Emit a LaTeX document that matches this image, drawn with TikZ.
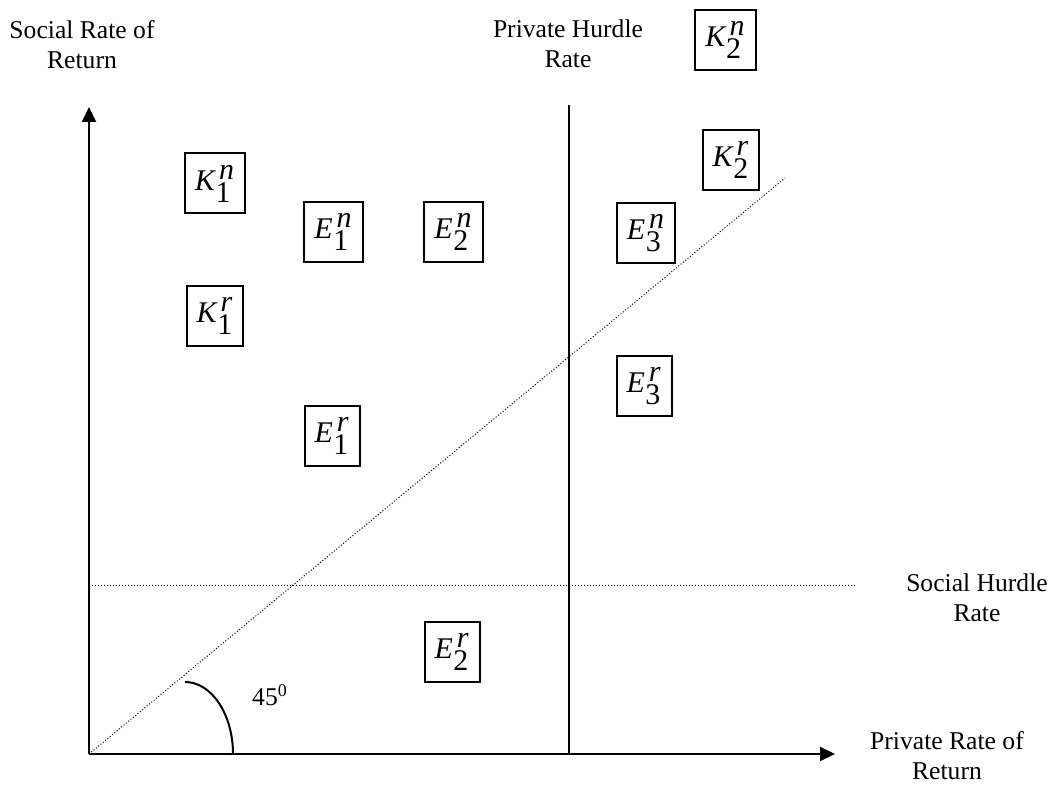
\documentclass[tikz,border=0pt]{standalone}
\usepackage{fontspec}
\setmainfont{Liberation Serif}
\usetikzlibrary{arrows.meta}
\newcommand{\bx}[3]{$\textit{#1}^{\kern2pt\textit{#2}}_{\kern0.3pt\textrm{#3}}$}
\tikzset{
  lbl/.style={align=center, font=\fontsize{12.8}{15}\selectfont, inner sep=0pt},
  itembox/.style={draw, line width=1pt, inner xsep=5pt, inner ysep=0pt, minimum height=30pt, font=\fontsize{15}{17}\selectfont},
  axis/.style={line width=1pt, -{Triangle[length=7.5pt,width=7pt]}},
  dots/.style={line width=0.5pt, dash pattern=on 0.5pt off 1pt},
}
\begin{document}
\begin{tikzpicture}[x=0.5pt,y=-0.5pt]
\useasboundingbox (0,0) rectangle (1057,785);
\coordinate (O) at (89,754);
\coordinate (ytop) at (89,107);
\coordinate (xend) at (835,754);
\coordinate (ph1) at (569,105);
\coordinate (ph0) at (569,754);
\coordinate (sh0) at (89,586);
\coordinate (sh1) at (855,586);
\coordinate (dg) at (785,178);
\coordinate (a1) at (185,682);
\coordinate (a2) at (233,754);

\draw[axis] (O) -- (ytop);
\draw[axis] (O) -- (xend);
\draw[line width=1pt] (ph0) -- (ph1);
\draw[dots] (sh0) -- (sh1);
\draw[dots] (O) -- (dg);
\draw[line width=1pt] (a1) .. controls (211.5,682) and (233,714.2) .. (a2);

\node[lbl] (ysoc) at (82,45) {Social Rate of\\Return};
\node[lbl] (phr) at (568,44) {Private Hurdle\\Rate};
\node[lbl] (shr) at (977,598) {Social Hurdle\\Rate};
\node[lbl] (xpriv) at (947,756) {Private Rate of\\Return};
\node[lbl] (ang) at (270,695) {45\textsuperscript{0}};

\node[itembox] (K1n) at (215,183.5) {\bx{K}{n}{1}};
\node[itembox] (E1n) at (333.5,232) {\bx{E}{n}{1}};
\node[itembox] (E2n) at (453.5,232) {\bx{E}{n}{2}};
\node[itembox] (K1r) at (215,316) {\bx{K}{r}{1}};
\node[itembox] (E1r) at (332,436) {\bx{E}{r}{1}};
\node[itembox] (K2n) at (725.5,40) {\bx{K}{n}{2}};
\node[itembox] (K2r) at (731,160) {\bx{K}{r}{2}};
\node[itembox] (E3n) at (646,233) {\bx{E}{n}{3}};
\node[itembox] (E3r) at (644,386) {\bx{E}{r}{3}};
\node[itembox] (E2r) at (452,652) {\bx{E}{r}{2}};
\end{tikzpicture}
\end{document}
